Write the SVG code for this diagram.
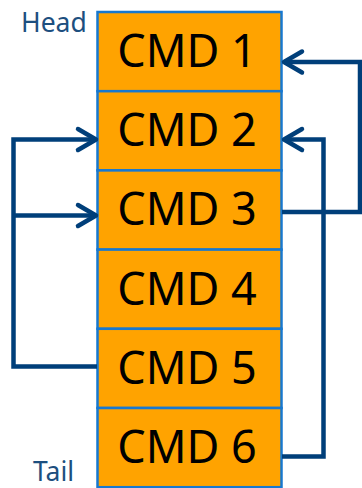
<svg xmlns="http://www.w3.org/2000/svg" width="362" height="488" viewBox="0 0 362 488">
  <style>
    .box { fill: #ffa300; stroke: #1778d0; stroke-width: 2.5; }
    .cmd { font-family: "Noto Sans", "DejaVu Sans", sans-serif; font-size: 45px; fill: #000; text-anchor: middle; }
    .lbl { font-family: "Noto Sans", "DejaVu Sans", sans-serif; font-size: 26.5px; fill: #1d4f7f; }
    .link { fill: none; stroke: #003f7a; stroke-width: 4.5; stroke-linejoin: miter; }
    .head { fill: none; stroke: #003f7a; stroke-width: 4.5; stroke-linecap: round; stroke-linejoin: round; }
  </style>

  <text class="lbl" x="21" y="32">Head</text>
  <text class="lbl" x="33" y="481">Tail</text>

  <g id="cmd1"><rect class="box" x="97.5" y="12" width="184" height="79.2"/><text class="cmd" x="187" y="67">CMD 1</text></g>
  <g id="cmd2"><rect class="box" x="97.5" y="91.2" width="184" height="79.2"/><text class="cmd" x="187" y="146.2">CMD 2</text></g>
  <g id="cmd3"><rect class="box" x="97.5" y="170.4" width="184" height="79.2"/><text class="cmd" x="187" y="225.4">CMD 3</text></g>
  <g id="cmd4"><rect class="box" x="97.5" y="249.6" width="184" height="79.2"/><text class="cmd" x="187" y="304.6">CMD 4</text></g>
  <g id="cmd5"><rect class="box" x="97.5" y="328.8" width="184" height="79.2"/><text class="cmd" x="187" y="383.8">CMD 5</text></g>
  <g id="cmd6"><rect class="box" x="97.5" y="408" width="184" height="79.2"/><text class="cmd" x="187" y="463">CMD 6</text></g>

  <g id="connectors">
    <!-- CMD 3 -> CMD 1 (right side) -->
    <path class="link" d="M282 212 H360 V62 H284"/>
    <path class="head" d="M302 51.5 L284 62 L302 72.5"/>
    <!-- CMD 6 -> CMD 2 (right side) -->
    <path class="link" d="M282 456.5 H323.5 V139.5 H284"/>
    <path class="head" d="M302 129 L284 139.5 L302 150"/>
    <!-- CMD 5 -> CMD 2 and CMD 3 (left side) -->
    <path class="link" d="M97 366.5 H13.5 V139.5 H95"/>
    <path class="link" d="M13.5 215.5 H95"/>
    <path class="head" d="M78 129 L96 139.5 L78 150"/>
    <path class="head" d="M78 205 L96 215.5 L78 226"/>
  </g>
</svg>
